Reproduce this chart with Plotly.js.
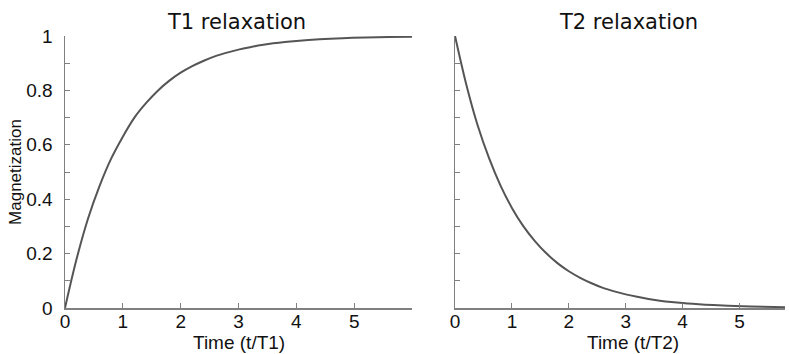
<!DOCTYPE html>
<html><head><meta charset="utf-8">
<script src="https://cdn.plot.ly/plotly-3.0.1.min.js"></script>
<style>html,body{margin:0;padding:0;background:#fff}#c{width:790px;height:354px}</style>
</head><body><div id="c"></div>
<script>
const t1Time = [0,0.2,0.4,0.6,0.8,1,1.2,1.4,1.6,1.8,2,2.2,2.4,2.6,2.8,3,3.2,3.4,3.6,3.8,4,4.4,4.8,5.2,5.6,6];
const t1Mag  = [0,0.18,0.33,0.45,0.55,0.63,0.70,0.753,0.798,0.835,0.865,0.889,0.909,0.926,0.939,0.95,0.959,0.967,0.973,0.978,0.982,0.988,0.992,0.9945,0.9963,0.9975];
const t2Time = [0,0.2,0.4,0.6,0.8,1,1.2,1.4,1.6,1.8,2,2.2,2.4,2.6,2.8,3,3.2,3.4,3.6,3.8,4,4.4,4.8,5.2,5.8];
const t2Mag  = [1,0.82,0.67,0.55,0.45,0.368,0.301,0.247,0.202,0.165,0.135,0.111,0.091,0.074,0.061,0.05,0.041,0.033,0.027,0.022,0.018,0.0123,0.0082,0.0055,0.003];
const yTickVals = [0,0.2,0.4,0.6,0.8,1];
const yTickText = ['0','0.2','0.4','0.6','0.8','1'];
const xTickVals = [0,1,2,3,4,5];
const titles = ['T1 relaxation','T2 relaxation'];
const xTitles = ['Time (t/T1)','Time (t/T2)'];

const lineStyle = {color:'#555555', width:2, shape:'spline'};
const traces = [
  {x:t1Time, y:t1Mag, mode:'lines', line:lineStyle, xaxis:'x', yaxis:'y', hoverinfo:'skip'},
  {x:t2Time, y:t2Mag, mode:'lines', line:lineStyle, xaxis:'x2', yaxis:'y2', hoverinfo:'skip'}
];
const tickFont = {family:'Liberation Sans, Arial, sans-serif', size:19, color:'#111'};
const axTitleFont = {family:'Liberation Sans, Arial, sans-serif', size:19, color:'#111'};
function xax(domain, range, anchor){
  return {domain:domain, range:range, anchor:anchor, showgrid:false, zeroline:false,
    showline:true, linecolor:'#808080', linewidth:1.5, ticks:'inside', ticklen:5, tickcolor:'#808080',
    tickvals:xTickVals, tickfont:tickFont, ticklabelstandoff:-4};
}
function yax(anchor, labels, title){
  return {domain:[0,1], range:[0,1], anchor:anchor, showgrid:false, zeroline:false,
    showline:true, linecolor:'#808080', linewidth:1.5, ticks:'inside', ticklen:5, tickcolor:'#808080',
    tickvals:yTickVals, ticktext:yTickText, showticklabels:labels, tickfont:tickFont, ticklabelstandoff:7,
    minor:{tickvals:[0.1,0.3,0.5,0.7,0.9], ticks:'inside', ticklen:5, tickcolor:'#808080', showgrid:false},
    title:{text:title, font:{family:'Liberation Sans, Arial, sans-serif', size:17, color:'#111'}, standoff:0}};
}
const titleFont = {family:'DejaVu Sans, Verdana, sans-serif', size:21, color:'#111'};
const layout = {
  width:790, height:354,
  margin:{l:65, r:5, t:36, b:46},
  paper_bgcolor:'#fff', plot_bgcolor:'#fff',
  showlegend:false,
  xaxis: xax([0,0.482],[0,6],'y'),
  yaxis: yax('x',true,'Magnetization'),
  xaxis2: xax([0.5417,1],[0,5.8],'y2'),
  yaxis2: yax('x2',false,''),
  annotations:[
    {text:titles[0], xref:'paper', yref:'paper', x:0.238, y:1, yshift:14, showarrow:false, xanchor:'center', yanchor:'middle', font:titleFont},
    {text:titles[1], xref:'paper', yref:'paper', x:0.783, y:1, yshift:14, showarrow:false, xanchor:'center', yanchor:'middle', font:titleFont},
    {text:xTitles[0], xref:'paper', yref:'paper', x:0.241, y:0, yshift:-46, showarrow:false, xanchor:'center', yanchor:'bottom', borderpad:0, font:axTitleFont},
    {text:xTitles[1], xref:'paper', yref:'paper', x:0.789, y:0, yshift:-46, showarrow:false, xanchor:'center', yanchor:'bottom', borderpad:0, font:axTitleFont}
  ]
};
Plotly.newPlot('c', traces, layout, {staticPlot:true, displayModeBar:false});
</script></body></html>
